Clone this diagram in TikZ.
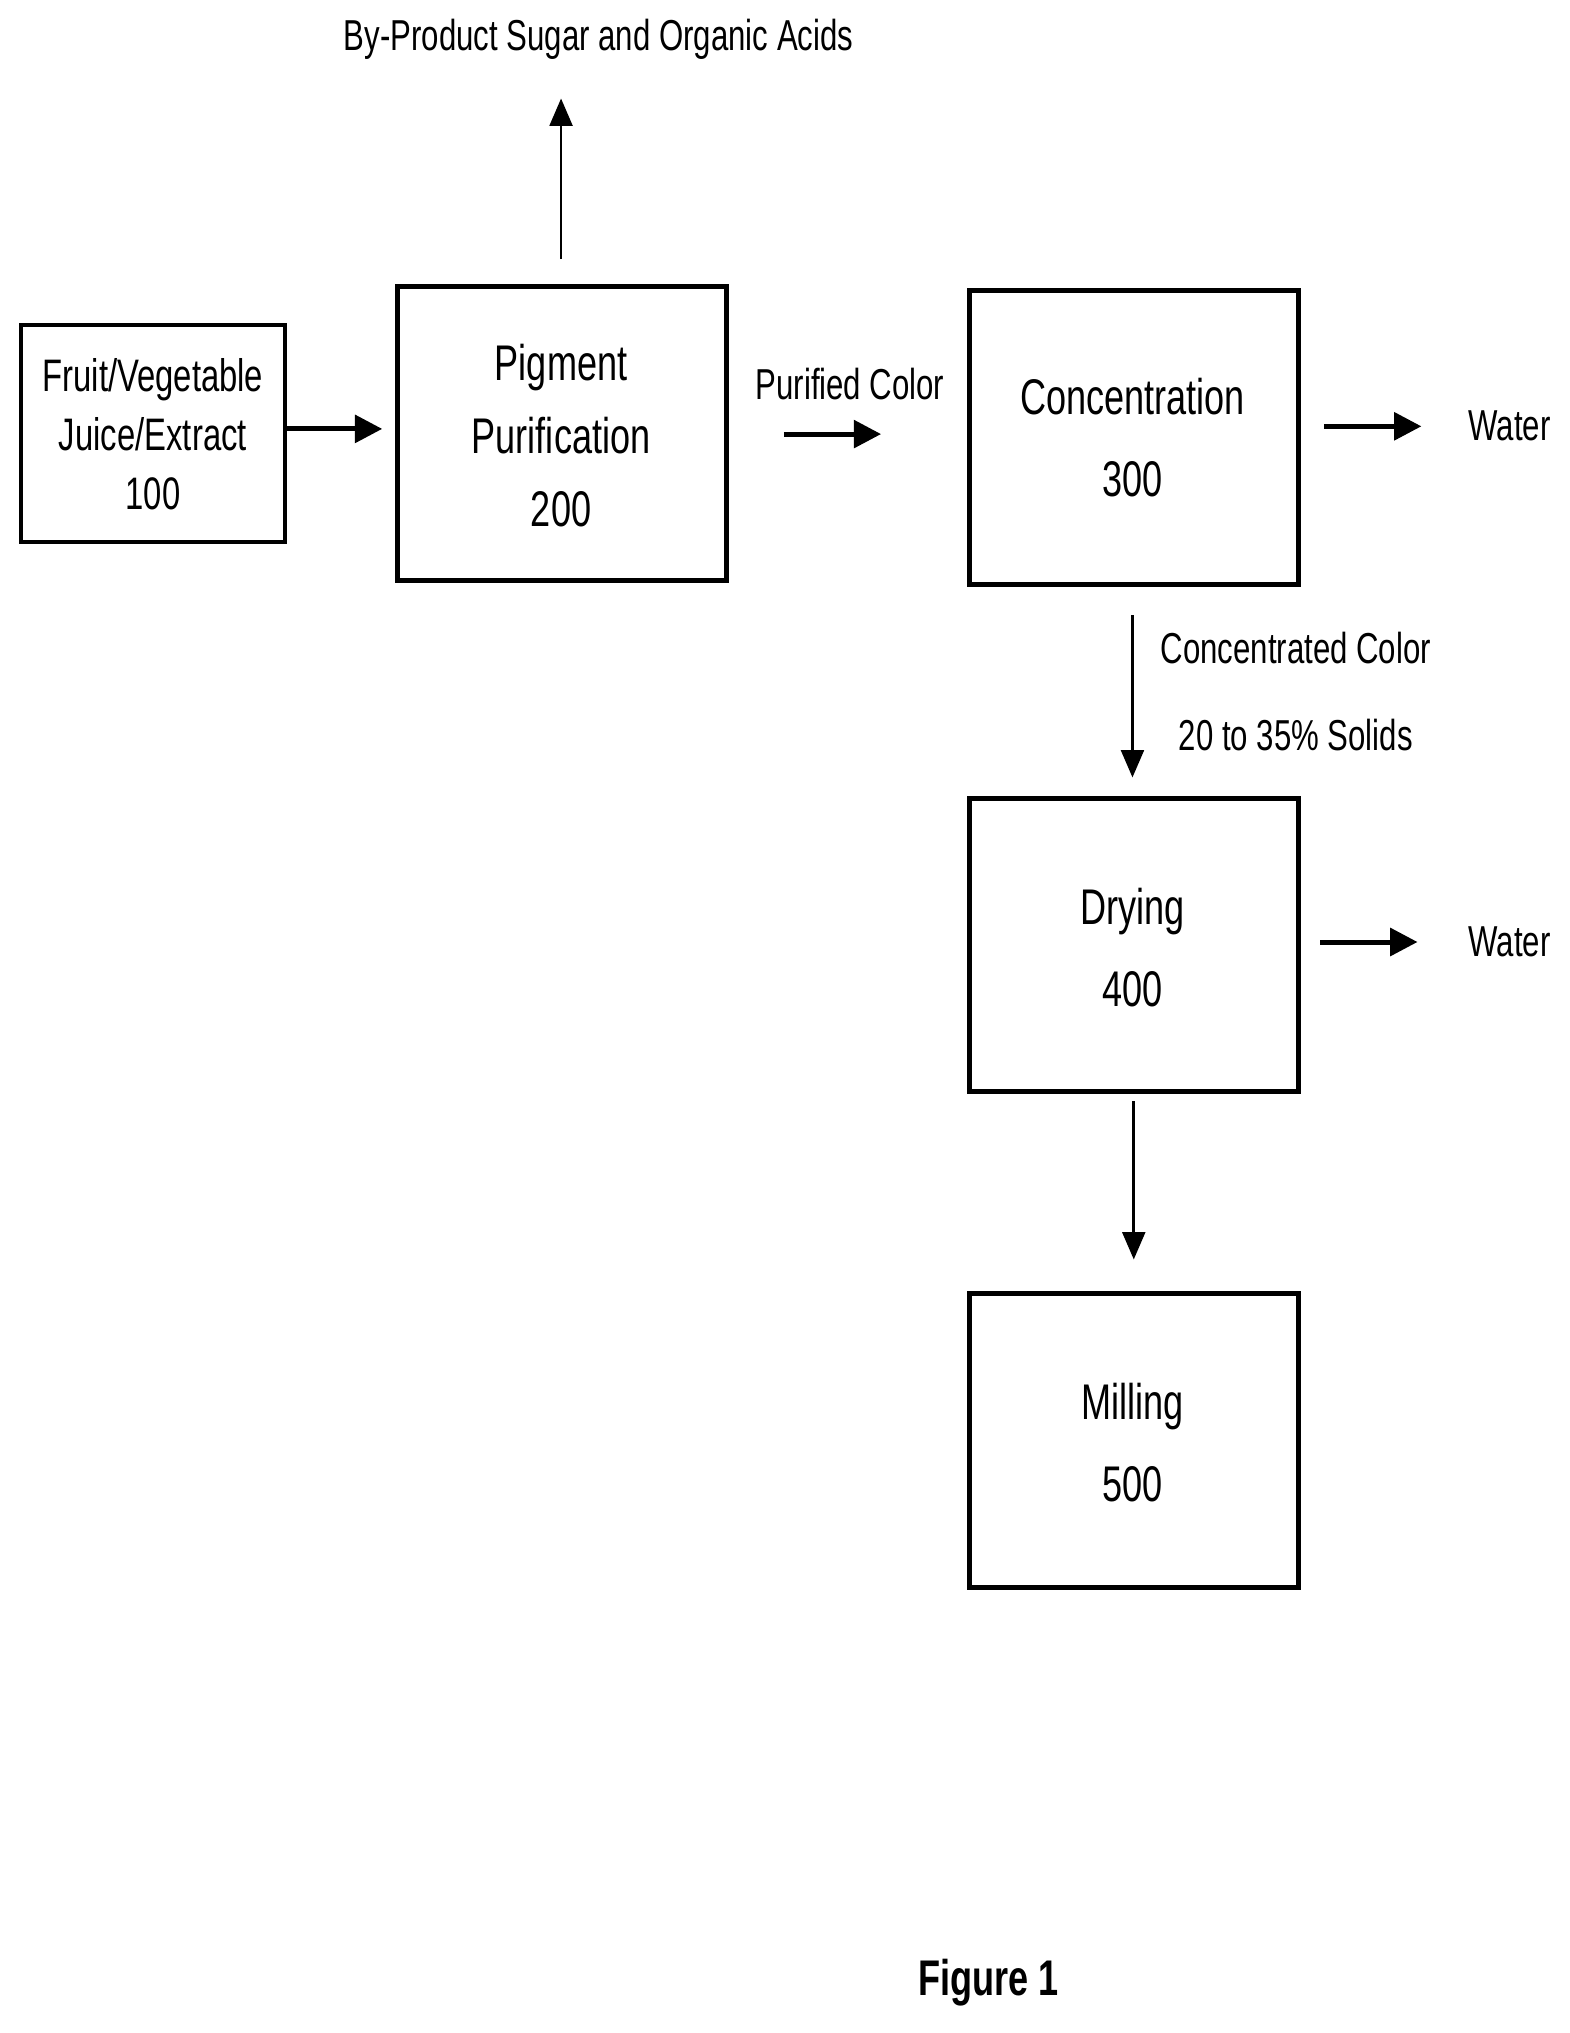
\documentclass[tikz,border=0pt]{standalone}
\usepackage{fontspec}
\setmainfont{Liberation Sans}[FakeStretch=0.72]
\usetikzlibrary{arrows.meta}
\begin{document}
\begin{tikzpicture}[x=0.01cm,y=-0.01cm,
  box/.style={draw,line width=1.1pt,inner sep=0},
  lab/.style={font=\fontsize{10}{12}\selectfont,align=center},
  sm/.style={font=\fontsize{9.5}{11}\selectfont},
  arr/.style={-{Triangle[length=6pt,width=6pt]},line width=1.1pt},
  tarr/.style={-{Triangle[length=6pt,width=5pt]},line width=0.6pt}]
\useasboundingbox (0,0) rectangle (1211,1569);
\draw[line width=0.9pt] (16,251) rectangle (220,418);
\node[lab] (n100) at (118,335) {Fruit/Vegetable\\[1pt]Juice/Extract\\[1pt]100};
\coordinate (b100) at (220,331);
\draw[box] (307,221) rectangle (561,448);
\node[lab,font=\fontsize{11}{14}\selectfont] (n200) at (433,336) {Pigment\\[2pt]Purification\\[2pt]200};
\draw[box] (748,224) rectangle (1002,451);
\node[lab,font=\fontsize{11}{14}\selectfont] (n300) at (874,338) {Concentration\\[4pt]300};
\draw[box] (748,616) rectangle (1002,842);
\node[lab,font=\fontsize{11}{14}\selectfont] (n400) at (874,731) {Drying\\[4pt]400};
\draw[box] (748,998) rectangle (1002,1225);
\node[lab,font=\fontsize{11}{14}\selectfont] (n500) at (874,1113) {Milling\\[4pt]500};

\coordinate (a1) at (220,331); \coordinate (a2) at (295,331);
\draw[arr] (a1) -- (a2);
\coordinate (p1) at (433,200); \coordinate (p2) at (433,76);
\draw[tarr] (p1) -- (p2);
\node[sm] (byp) at (462,30) {By-Product Sugar and Organic Acids};
\coordinate (c1) at (605,335); \coordinate (c2) at (680,335);
\draw[arr] (c1) -- (c2);
\node[sm] (pc) at (656,296) {Purified Color};
\coordinate (w1) at (1022,329); \coordinate (w2) at (1097,329);
\draw[arr] (w1) -- (w2);
\node[sm] (wa) at (1165,329) {Water};
\coordinate (d1) at (874,475); \coordinate (d2) at (874,600);
\draw[tarr] (d1) -- (d2);
\node[sm] (cc) at (1000,500) {Concentrated Color};
\node[sm] (so) at (1000,567) {20 to 35\% Solids};
\coordinate (v1) at (1019,727); \coordinate (v2) at (1094,727);
\draw[arr] (v1) -- (v2);
\node[sm] (wb) at (1165,727) {Water};
\coordinate (m1) at (875,850); \coordinate (m2) at (875,972);
\draw[tarr] (m1) -- (m2);
\node[font=\fontsize{11}{13}\selectfont\bfseries] (fig) at (763,1530) {Figure 1};
\end{tikzpicture}
\end{document}
